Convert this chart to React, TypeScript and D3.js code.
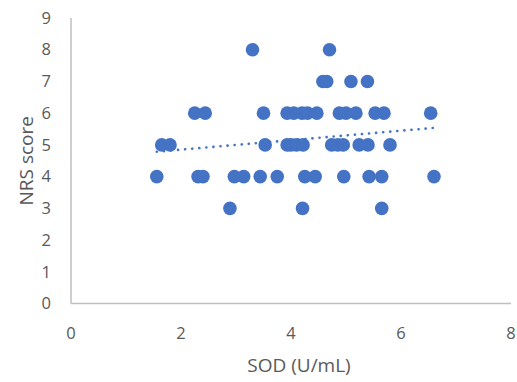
import React from "react";
import * as d3 from "d3";

const sodValues: number[] = [
  3.30, 4.70,
  4.58, 4.65, 5.09, 5.39,
  2.25, 2.44, 3.50, 3.93, 4.05, 4.20, 4.30, 4.47, 4.88, 5.00, 5.18, 5.53, 5.69, 6.54,
  1.65, 1.80, 3.53, 3.93, 4.00, 4.10, 4.22, 4.74, 4.85, 4.95, 5.24, 5.40, 5.80,
  1.56, 2.31, 2.40, 2.97, 3.14, 3.44, 3.75, 4.25, 4.44, 4.96, 5.42, 5.65, 6.60,
  2.89, 4.21, 5.65,
];
const nrsValues: number[] = [
  8, 8,
  7, 7, 7, 7,
  6, 6, 6, 6, 6, 6, 6, 6, 6, 6, 6, 6, 6, 6,
  5, 5, 5, 5, 5, 5, 5, 5, 5, 5, 5, 5, 5,
  4, 4, 4, 4, 4, 4, 4, 4, 4, 4, 4, 4, 4,
  3, 3, 3,
];
const xTicks: number[] = [0, 2, 4, 6, 8];
const yTicks: number[] = [0, 1, 2, 3, 4, 5, 6, 7, 8, 9];
const xTitle = "SOD (U/mL)";
const yTitle = "NRS score";

export default function App() {
  const W = 517, H = 382;
  const left = 71, right = 511, top = 18, bottom = 303.5;
  const x = d3.scaleLinear().domain([0, 8]).range([left, right]);
  const y = d3.scaleLinear().domain([0, 9]).range([bottom, top]);

  const n = sodValues.length;
  const mx = d3.mean(sodValues)!;
  const my = d3.mean(nrsValues)!;
  let sxy = 0, sxx = 0;
  for (let i = 0; i < n; i++) {
    sxy += (sodValues[i] - mx) * (nrsValues[i] - my);
    sxx += (sodValues[i] - mx) ** 2;
  }
  const slope = sxy / sxx;
  const intercept = my - slope * mx;
  const [xmin, xmax] = d3.extent(sodValues) as [number, number];
  const trend = d3.line<number>().x((v) => x(v)).y((v) => y(intercept + slope * v));

  const font = "'Open Sans', sans-serif";
  const grey = "#595959";

  return (
    <svg width={W} height={H} style={{ position: "absolute", left: 0, top: 0, background: "#fff" }} fontFamily={font}>
      <line x1={left} x2={left} y1={top} y2={bottom} stroke="#bfbfbf" strokeWidth={1.5} />
      <line x1={left} x2={right} y1={bottom} y2={bottom} stroke="#bfbfbf" strokeWidth={1.5} />
      {yTicks.map((t) => (
        <text key={t} x={51} y={y(t)} dy="0.35em" textAnchor="end" fontSize={16.5} fill={grey}>{t}</text>
      ))}
      {xTicks.map((t) => (
        <text key={t} x={x(t)} y={333} dy="0.35em" textAnchor="middle" fontSize={16.5} fill={grey}>{t}</text>
      ))}
      <text x={(left + right) / 2 + 8} y={365} dy="0.35em" textAnchor="middle" fontSize={19} fill={grey}>{xTitle}</text>
      <text transform={`translate(26,${(top + bottom) / 2}) rotate(-90)`} dy="0.35em" textAnchor="middle" fontSize={19} fill={grey}>{yTitle}</text>
      {sodValues.map((v, i) => (
        <circle key={i} cx={x(v)} cy={y(nrsValues[i])} r={6.8} fill="#4472c4" />
      ))}
      <path d={trend([xmin, xmax]) || ""} fill="none" stroke="#4472c4" strokeWidth={2.6} strokeDasharray="0.1 7" strokeLinecap="round" />
    </svg>
  );
}
